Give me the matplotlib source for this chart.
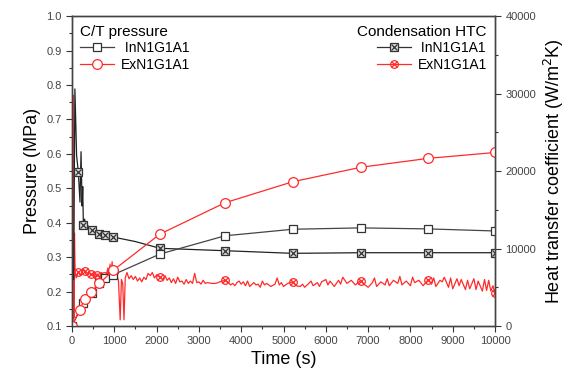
import matplotlib
matplotlib.use('Agg')
import matplotlib.pyplot as plt
from matplotlib.ticker import MultipleLocator
from matplotlib.legend_handler import HandlerTuple

plt.rcParams['font.family'] = ['Liberation Sans', 'DejaVu Sans']

# C/T pressure (MPa)
p_in_t = [0, 270, 465, 645, 780, 960, 2080, 3617, 5217, 6825, 8424, 10000]
p_in = [0.10, 0.166, 0.195, 0.224, 0.239, 0.248, 0.309, 0.362, 0.381, 0.385, 0.382, 0.376]
p_ex_t = [0, 180, 300, 460, 650, 980, 2080, 3617, 5217, 6825, 8424, 10000]
p_ex = [0.10, 0.147, 0.178, 0.200, 0.224, 0.262, 0.367, 0.458, 0.519, 0.561, 0.587, 0.604]

# condensation HTC (W/m2K), InN1G1A1
h_in_t = [40, 70, 110, 150, 190, 215, 240, 255, 270, 300, 330, 360, 400, 465,
          550, 645, 780, 960, 1500, 2080, 3617, 5217, 6825, 8424, 10000]
h_in = [6000, 30600, 22000, 19900, 16000, 22500, 15500, 18000, 13000, 13800,
        12600, 13200, 12500, 12400, 12100, 11900, 11740, 11500, 10900, 10030,
        9720, 9380, 9460, 9460, 9460]
h_in_mk_t = [150, 270, 465, 645, 780, 960, 2080, 3617, 5217, 6825, 8424, 10000]
h_in_mk = [19900, 13000, 12400, 11900, 11740, 11500, 10030, 9720, 9380, 9460, 9460, 9460]

# condensation HTC (W/m2K), ExN1G1A1
h_ex_t = [0, 8, 18, 30, 45, 60, 75, 100, 150, 200,
          250, 300, 350, 400, 450, 500, 550, 600, 650, 700,
          750, 800, 850, 880, 900, 920, 950, 970, 990, 1010,
          1060, 1100, 1140, 1170, 1200, 1230, 1260, 1300, 1350, 1400,
          1450, 1500, 1550, 1600, 1650, 1700, 1750, 1800, 1850, 1900,
          1950, 2000, 2080, 2150, 2200, 2250, 2300, 2350, 2400, 2450,
          2500, 2550, 2600, 2650, 2700, 2750, 2800, 2850, 2900, 2950,
          3000, 3050, 3100, 3150, 3200, 3300, 3400, 3500, 3617, 3700,
          3750, 3800, 3850, 3900, 3950, 4000, 4050, 4100, 4150, 4200,
          4300, 4350, 4400, 4450, 4500, 4550, 4600, 4700, 4800, 4850,
          4900, 4950, 5000, 5100, 5217, 5300, 5400, 5450, 5500, 5600,
          5650, 5700, 5800, 5850, 5900, 6000, 6050, 6100, 6200, 6300,
          6350, 6400, 6500, 6600, 6700, 6825, 6900, 7000, 7100, 7150,
          7200, 7300, 7400, 7450, 7500, 7600, 7700, 7750, 7800, 7900,
          8000, 8050, 8100, 8200, 8300, 8424, 8500, 8550, 8600, 8700,
          8750, 8800, 8900, 8950, 9000, 9100, 9150, 9200, 9300, 9350,
          9400, 9500, 9550, 9600, 9700, 9750, 9800, 9850, 9900, 9950, 10000]
h_ex = [0, 42000, 300, 29800, 1000, 12000, 7000, 6200, 7000, 6500,
        7300, 7000, 6600, 7000, 6500, 6800, 6200, 6700, 6300, 6900,
        6400, 6300, 7500, 6300, 8000, 6200, 8300, 6400, 7800, 6900,
        6700, 5800, 800, 6000, 5500, 800, 6200, 6900, 6100, 6500,
        6000, 6400, 5800, 6200, 5700, 6300, 6000, 6800, 6500, 6900,
        6200, 6600, 6300, 6000, 6500, 5900, 6200, 5600, 6100, 5500,
        6300, 5700, 5800, 5400, 6000, 5500, 5800, 5500, 6800, 5600,
        5700, 5400, 5900, 5500, 5600, 5500, 5500, 5700, 5900, 5600,
        5300, 5500, 5200, 5600, 5800, 5400, 5700, 5200, 5800, 5100,
        5600, 5300, 5400, 5000, 5800, 5300, 5500, 5100, 5400, 6200,
        5300, 5600, 5100, 5500, 5700, 5200, 5100, 5400, 5000, 5500,
        5800, 5200, 5600, 5100, 5700, 6000, 5300, 5800, 5100, 5900,
        5400, 6300, 5500, 5900, 5300, 5900, 5400, 5000, 5600, 6200,
        5100, 5700, 5300, 6100, 5200, 5900, 5500, 6400, 5300, 5800,
        5200, 6300, 5600, 5900, 5200, 6000, 5400, 6200, 5100, 5900,
        5700, 6300, 5000, 6200, 4800, 6100, 5200, 6000, 4700, 5900,
        4800, 6100, 4700, 5800, 4500, 6000, 4600, 5900, 4500, 5200, 4200]
h_ex_mk_t = [150, 300, 450, 600, 750, 900, 1000, 2080, 3617, 5217, 6825, 8424, 10000]
h_ex_mk = [7000, 7100, 6700, 6600, 6500, 6700, 7000, 6300, 5900, 5700, 5800, 5900, 4300]

time_ticks = list(range(0, 10001, 1000))
p_ticks = [0.1, 0.2, 0.3, 0.4, 0.5, 0.6, 0.7, 0.8, 0.9, 1.0]
h_ticks = [0, 10000, 20000, 30000, 40000]

black = '#333333'
red = '#ff2a2a'

fig = plt.figure(figsize=(5.71, 3.76), dpi=100)
ax = fig.add_axes([0.126, 0.133, 0.741, 0.824])
ax2 = ax.twinx()

# HTC on the right axis
ax2.plot(h_ex_t, h_ex, color=red, lw=0.9, zorder=2)
ax2.plot(h_in_t, h_in, color='#222222', lw=0.9, zorder=3)
hi_s, = ax2.plot(h_in_mk_t, h_in_mk, 's', ms=5.5, mfc='#dddddd', mec=black, mew=0.9, ls='none', zorder=4)
hi_x, = ax2.plot(h_in_mk_t, h_in_mk, 'x', ms=4.5, mec=black, mew=0.9, ls='none', zorder=5)
he_o, = ax2.plot(h_ex_mk_t, h_ex_mk, 'o', ms=5.5, mfc='none', mec=red, mew=0.9, ls='none', zorder=4)
he_x, = ax2.plot(h_ex_mk_t, h_ex_mk, 'x', ms=4.5, mec=red, mew=0.9, ls='none', zorder=5)
hi_l, = ax2.plot([], [], color=black, lw=0.9)
he_l, = ax2.plot([], [], color=red, lw=0.9)

# pressure on the left axis, drawn above the HTC traces
ax.set_zorder(ax2.get_zorder() + 1)
ax.patch.set_visible(False)
pi, = ax.plot(p_in_t, p_in, '-s', color='#444444', lw=0.9, ms=6, mfc='white', mec=black, mew=0.9)
pe, = ax.plot(p_ex_t, p_ex, '-o', color=red, lw=0.9, ms=7, mfc='white', mec=red, mew=0.9)

ax.set_xlim(0, 10000)
ax.set_ylim(0.1, 1.0)
ax2.set_ylim(0, 40000)
ax.set_xticks(time_ticks)
ax.set_yticks(p_ticks)
ax2.set_yticks(h_ticks)
ax.xaxis.set_minor_locator(MultipleLocator(500))
ax.yaxis.set_minor_locator(MultipleLocator(0.05))
ax2.yaxis.set_minor_locator(MultipleLocator(5000))

for a in (ax, ax2):
    a.tick_params(which='major', direction='out', length=4, width=0.8,
                  labelsize=8, labelcolor='#444444', color='#333333')
    a.tick_params(which='minor', direction='out', length=2.5, width=0.8, color='#333333')
    for s in a.spines.values():
        s.set_color('#444444')
        s.set_linewidth(1.0)

ax.set_xlabel('Time (s)', fontsize=13, labelpad=3)
ax.set_ylabel('Pressure (MPa)', fontsize=13, labelpad=4)
ax2.set_ylabel('Heat transfer coefficient (W/m$^2$K)', fontsize=13, labelpad=4)

leg1 = ax.legend([pi, pe], [' InN1G1A1', 'ExN1G1A1'], title='C/T pressure',
                 loc='upper left', frameon=False, fontsize=10, title_fontsize=11,
                 handlelength=2.4, borderaxespad=0.2, labelspacing=0.2,
                 handletextpad=0.5)
leg1._legend_box.align = 'left'
ax.add_artist(leg1)
leg2 = ax.legend([(hi_l, hi_s, hi_x), (he_l, he_o, he_x)], [' InN1G1A1', 'ExN1G1A1'],
                 title='Condensation HTC', loc='upper right', frameon=False,
                 fontsize=10, title_fontsize=11, handlelength=2.4,
                 borderaxespad=0.2, labelspacing=0.2, handletextpad=0.5,
                 handler_map={tuple: HandlerTuple(ndivide=1)})
leg2._legend_box.align = 'right'

fig.savefig('out.png', dpi=100)
